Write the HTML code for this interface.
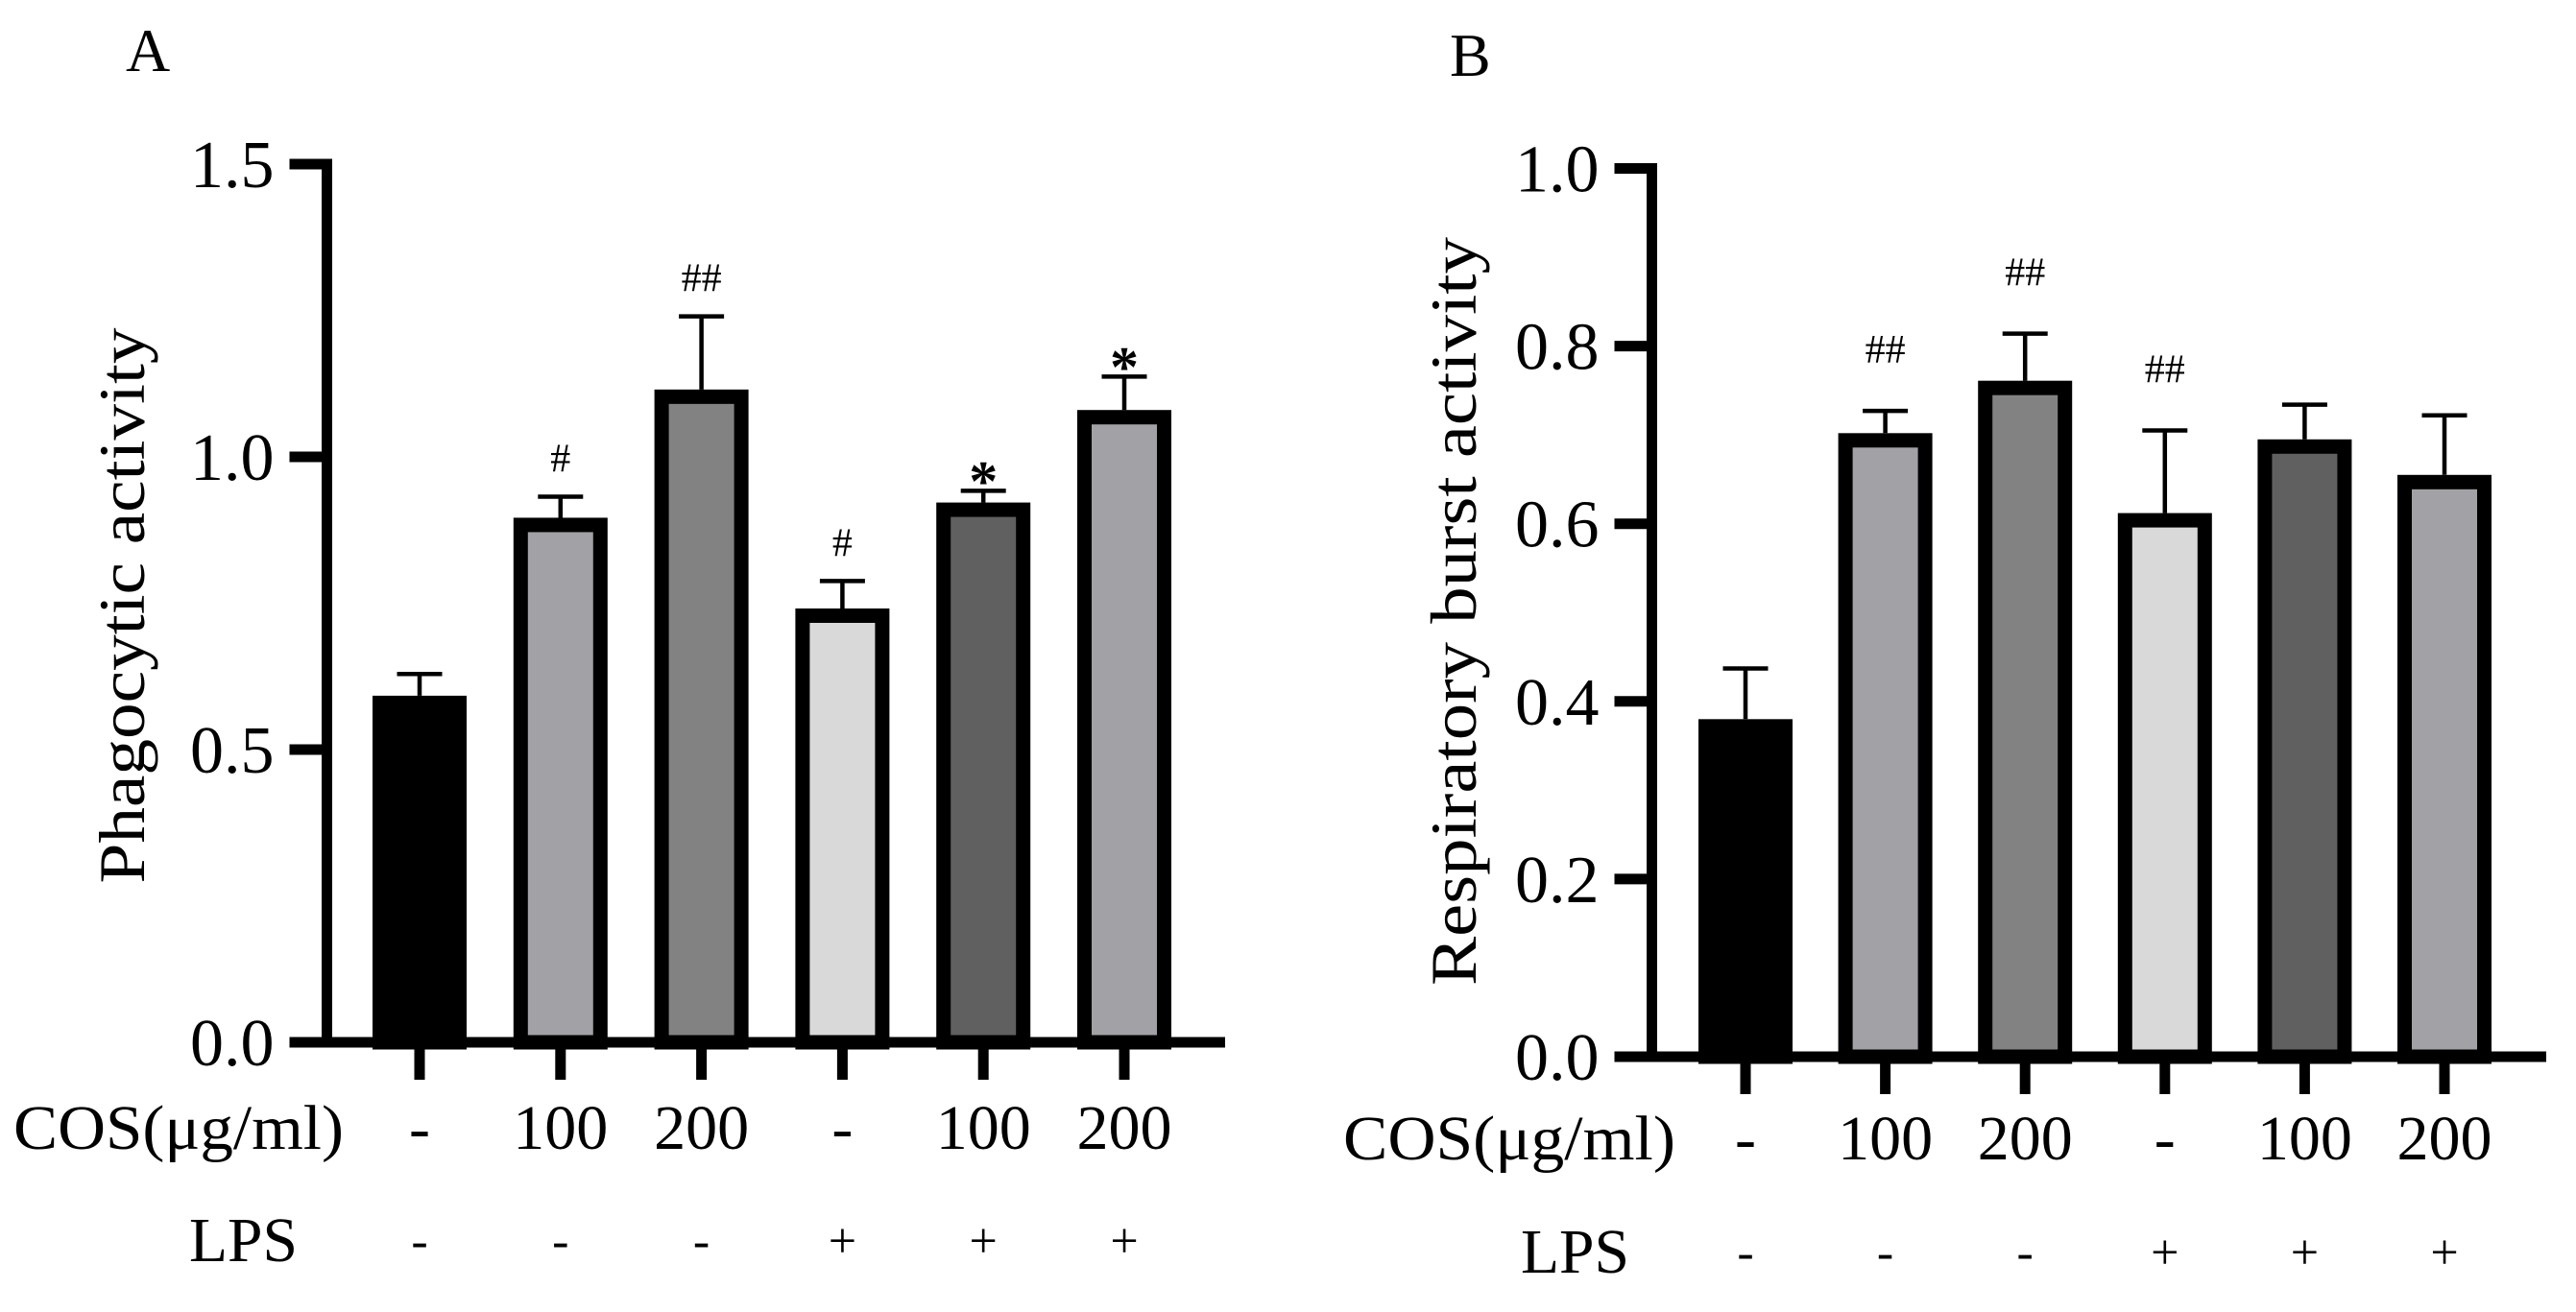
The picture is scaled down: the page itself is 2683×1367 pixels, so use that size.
<!DOCTYPE html>
<html><head><meta charset="utf-8"><style>
html,body{margin:0;padding:0;background:#fff;}
svg{display:block;}
svg text{font-family:"Liberation Serif","Times New Roman",Times,serif;}
</style></head><body>
<svg id="fig" width="2683" height="1367" viewBox="0 0 2683 1367" xmlns="http://www.w3.org/2000/svg">
<g id="panelA"></g>
<g id="panelB"></g>
</svg>
<script>
const categories = ["ctrl","cos100","cos200","lps","lps-cos100","lps-cos200"];
const cosLabels = ["-","100","200","-","100","200"];
const lpsLabels = ["-","-","-","+","+","+"];
const barColors = ["#000000","#a2a1a6","#828282","#d9d9d9","#606060","#a2a1a6"];
const valuesA = [0.592,0.896,1.115,0.741,0.922,1.080];
const errorsA = [0.037,0.036,0.125,0.047,0.020,0.057];
const marksA = ["","#","##","#","*","*"];
const ticksA = [0,0.5,1.0,1.5];
const tickLabelsA = ["0.0","0.5","1.0","1.5"];
const valuesB = [0.380,0.702,0.761,0.612,0.695,0.655];
const errorsB = [0.057,0.025,0.053,0.093,0.039,0.067];
const marksB = ["","##","##","##","",""];
const ticksB = [0,0.2,0.4,0.6,0.8,1.0];
const tickLabelsB = ["0.0","0.2","0.4","0.6","0.8","1.0"];

const NS="http://www.w3.org/2000/svg";
const FF='"Liberation Serif", "Times New Roman", Times, serif';
function mk(parent,tag,attrs,text){const e=document.createElementNS(NS,tag);for(const k in attrs)e.setAttribute(k,attrs[k]);if(tag==="text")e.setAttribute("font-family",FF);if(text!==undefined)e.textContent=text;parent.appendChild(e);return e;}

function drawPanel(g,cfg){
  const y=v=>cfg.y0-(v/cfg.ymax)*(cfg.y0-cfg.yTop);
  const x=i=>cfg.x0+i*cfg.step;
  cfg.values.forEach((v,i)=>{
    const w=98,bw=15,cx=x(i),top=y(v);
    const r=mk(g,"rect",{x:cx-w/2+bw/2,y:top+bw/2,width:w-bw,height:cfg.y0-top-bw/2,fill:barColors[i],stroke:"#000","stroke-width":bw});
    
    
    const et=y(v+cfg.errors[i]);
    const e=mk(g,"path",{d:`M${cx},${top} V${et} M${cx-23.5},${et} H${cx+23.5}`,stroke:"#000","stroke-width":4.5,fill:"none"});
    
    
    if(cfg.marks[i]){
      const star=cfg.marks[i]==="*";
      const t=mk(g,"text",{x:cx,y:et-(star?-10:cfg.markOff),"text-anchor":"middle","font-size":star?60:42,"font-weight":star?"bold":"normal"},cfg.marks[i]);
      
      
    }
    const tk=mk(g,"line",{x1:cx,x2:cx,y1:cfg.y0,y2:cfg.y0+39,stroke:"#000","stroke-width":11});
    
    
    const c=mk(g,"text",{x:cx,y:cfg.cosY+22,"text-anchor":"middle","font-size":66},cosLabels[i]);
    
    
    const l=mk(g,"text",{x:cx,y:cfg.lpsY+18,"text-anchor":"middle","font-size":52},lpsLabels[i]);
    
    
  });
  const ax=mk(g,"path",{d:`M${cfg.ax},${cfg.yTop-5.5} V${cfg.y0} H${cfg.xEnd}`,stroke:"#000","stroke-width":11,fill:"none"});
  
  
  cfg.ticks.forEach((t,i)=>{
    const ty=y(t);
    const tl=mk(g,"line",{x1:cfg.ax-39,x2:cfg.ax,y1:ty,y2:ty,stroke:"#000","stroke-width":11});
    
    
    const tt=mk(g,"text",{x:cfg.ax-55,y:ty+24,"text-anchor":"end","font-size":70},cfg.tickLabels[i]);
    
    
  });
  const yl=mk(g,"text",{x:0,y:0,"text-anchor":"middle","font-size":68,textLength:cfg.ylLen,lengthAdjust:"spacingAndGlyphs",transform:`translate(${cfg.ylX},${cfg.ylY}) rotate(-90)`},cfg.ylabel);
  
  
  const cl=mk(g,"text",{x:cfg.cosX,y:cfg.cosY+22,"font-size":66,textLength:cfg.cosLen,lengthAdjust:"spacingAndGlyphs"},"COS(μg/ml)");
  
  
  const ll=mk(g,"text",{x:cfg.lpsX,y:cfg.lpsY+22,"font-size":66,textLength:113,lengthAdjust:"spacingAndGlyphs"},"LPS");
  
  
  const pl=mk(g,"text",{x:cfg.pX,y:cfg.pY,"font-size":64},cfg.panel);
  
  
}

drawPanel(document.getElementById("panelA"),{
  values:valuesA,errors:errorsA,marks:marksA,ticks:ticksA,tickLabels:tickLabelsA,
  ymax:1.5,y0:1086,yTop:171,x0:437,step:146.8,ax:340.5,xEnd:1276,markOff:26,
  cosY:1175,lpsY:1292,cosX:14,cosLen:344,lpsX:197,
  ylabel:"Phagocytic activity",ylX:150,ylY:631,ylLen:579,panel:"A",pX:131,pY:74
});
drawPanel(document.getElementById("panelB"),{
  values:valuesB,errors:errorsB,marks:marksB,ticks:ticksB,tickLabels:tickLabelsB,
  ymax:1.0,y0:1101,yTop:175.5,x0:1818,step:145.6,ax:1720.5,xEnd:2652,markOff:50,
  cosY:1186,lpsY:1304,cosX:1399,cosLen:346,lpsX:1584,
  ylabel:"Respiratory burst activity",ylX:1537,ylY:637,ylLen:780,panel:"B",pX:1510,pY:79
});
</script>
</body></html>
